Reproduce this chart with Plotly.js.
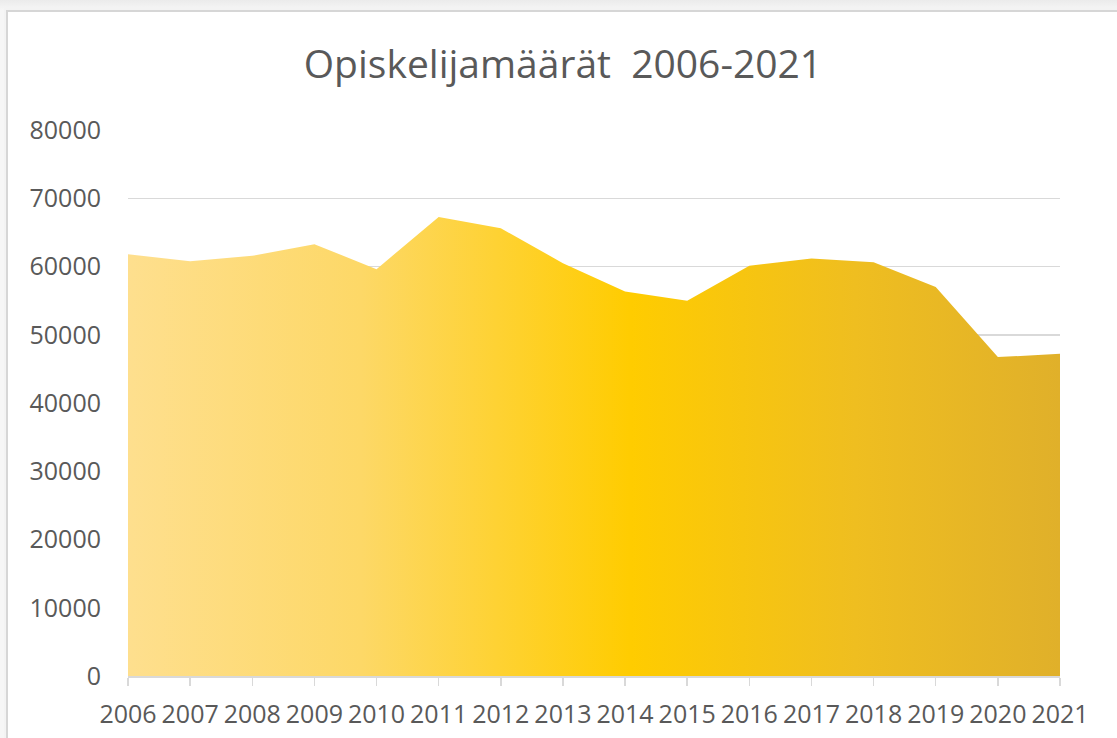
<!DOCTYPE html>
<html>
<head>
<meta charset="utf-8">
<script src="https://cdn.plot.ly/plotly-3.0.1.min.js"></script>
<style>
  html, body { margin:0; padding:0; width:1117px; height:738px; overflow:hidden; background:#efefef; }
  #bg { position:absolute; left:0; top:0; width:1117px; height:738px; background:linear-gradient(#ebebeb,#f6f6f6 10px); }
  #frame { position:absolute; left:6px; top:10px; width:1200px; height:800px; background:#fff; border-left:2px solid #d6d6d6; border-top:2px solid #d6d6d6; box-shadow: -2px -2px 0 #f3f3f3; }
  #chart { position:absolute; left:0; top:0; width:1117px; height:738px; }
</style>
</head>
<body>
<div id="bg"></div>
<div id="frame"></div>
<div id="chart"></div>
<script>
const years = ['2006','2007','2008','2009','2010','2011','2012','2013','2014','2015','2016','2017','2018','2019','2020','2021'];
const students = [61800, 60780, 61560, 63270, 59610, 67270, 65610, 60490, 56340, 54980, 60100, 61170, 60630, 56980, 46730, 47200];
const yTicks = [0, 10000, 20000, 30000, 40000, 50000, 60000, 70000, 80000];
const titleText = 'Opiskelijamäärät \u00a02006-2021';

const trace = {
  x: years,
  y: students,
  type: 'scatter',
  mode: 'lines',
  fill: 'tozeroy',
  line: { width: 0, color: 'rgba(0,0,0,0)' },
  fillgradient: {
    type: 'horizontal',
    colorscale: [[0, '#FEDF8E'], [0.25, '#FDD867'], [0.54, '#FFCC00'], [0.78, '#EFBE20'], [1, '#E0B02A']]
  },
  hoverinfo: 'x+y'
};

const layout = {
  width: 1117,
  height: 738,
  paper_bgcolor: 'rgba(0,0,0,0)',
  plot_bgcolor: 'rgba(0,0,0,0)',
  margin: { l: 128, r: 57, t: 130, b: 62 },
  showlegend: false,
  title: {
    text: titleText,
    font: { family: 'Open Sans, sans-serif', size: 39, color: '#595959' },
    x: 0.504, xanchor: 'center',
    y: 0.913, yanchor: 'middle'
  },
  xaxis: {
    type: 'category',
    range: [0, years.length - 1],
    showgrid: false,
    showline: true,
    linecolor: '#d9d9d9',
    linewidth: 1.5,
    ticks: 'outside',
    ticklen: 8,
    tickcolor: '#d9d9d9',
    tickwidth: 1.5,
    ticklabelstandoff: 7,
    tickfont: { family: 'Open Sans, sans-serif', size: 25, color: '#595959' },
    fixedrange: true
  },
  yaxis: {
    range: [0, 80000],
    tickvals: yTicks,
    ticktext: yTicks.map(String),
    showgrid: true,
    gridcolor: '#d9d9d9',
    gridwidth: 1.5,
    zeroline: false,
    showline: false,
    ticks: '',
    ticklabelstandoff: 26,
    tickfont: { family: 'Open Sans, sans-serif', size: 25, color: '#595959' },
    fixedrange: true
  }
};

Plotly.newPlot('chart', [trace], layout, { displayModeBar: false, staticPlot: true });
</script>
</body>
</html>
